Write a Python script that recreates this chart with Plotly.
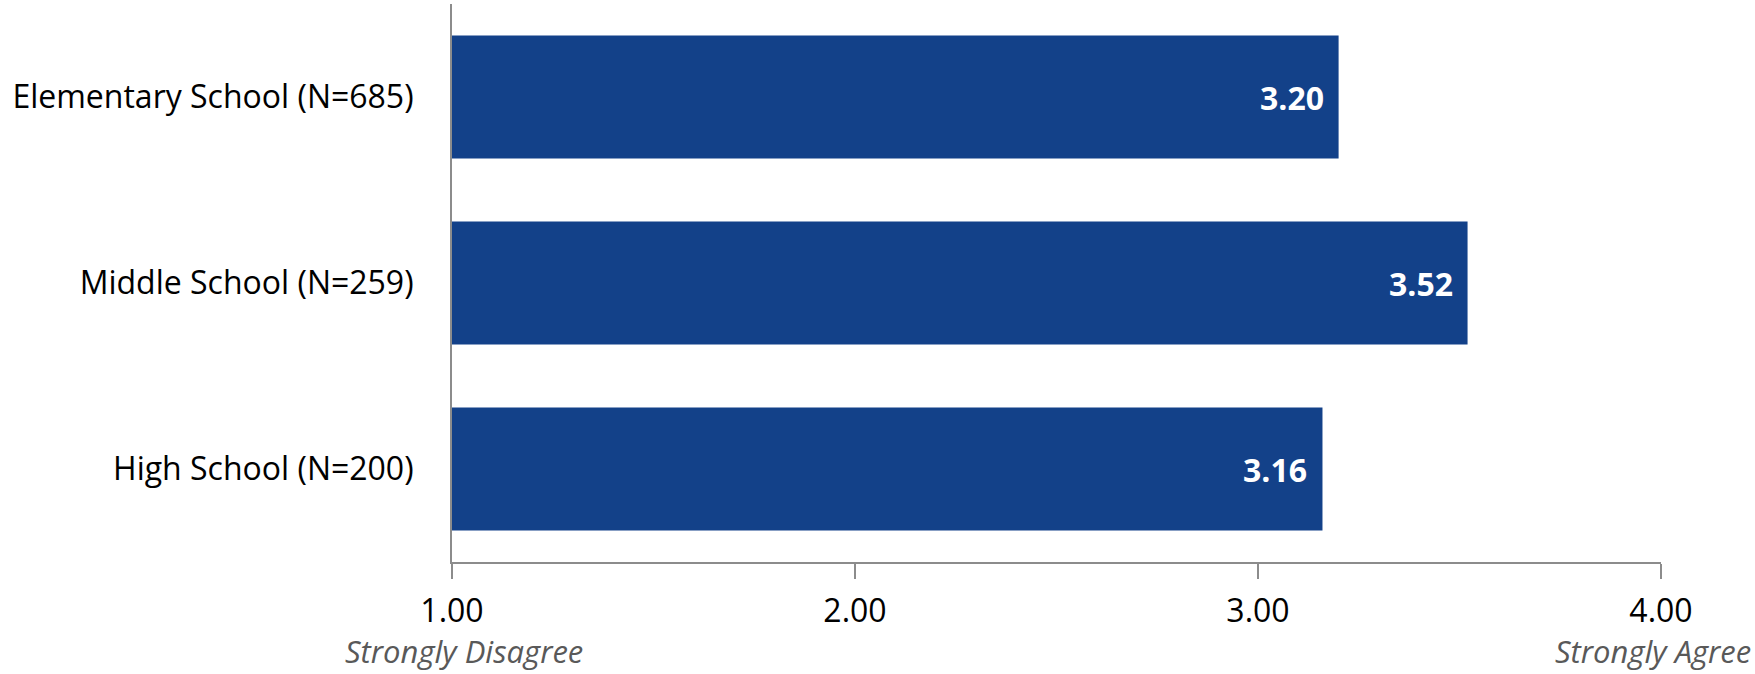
import plotly.graph_objects as go

categories = ["Elementary School (N=685)", "Middle School (N=259)", "High School (N=200)"]
values = [3.20, 3.52, 3.16]
tick_vals = [1, 2, 3, 4]
tick_text = ["1.00", "2.00", "3.00", "4.00"]
scale_low = "Strongly Disagree"
scale_high = "Strongly Agree"

BAR = "#134189"
AXIS = "#8c8c8c"
FONT = "Open Sans"

fig = go.Figure()
fig.add_trace(go.Bar(
    y=categories, x=[v - 1 for v in values], base=1, orientation="h",
    marker=dict(color=BAR, line=dict(width=0)), width=0.66,
    hoverinfo="skip", showlegend=False,
))

for c, v in zip(categories, values):
    fig.add_annotation(x=v, y=c, xref="x", yref="y", text=f"<b>{v:.2f}</b>",
                       showarrow=False, xanchor="right", xshift=-13,
                       font=dict(family=FONT, size=32, color="white"))

fig.add_annotation(x=1, y=0, xref="x", yref="paper", text=f"<i>{scale_low}</i>",
                   showarrow=False, xanchor="center", yanchor="top", xshift=12, yshift=-67,
                   borderpad=0, font=dict(family=FONT, size=31, color="#595959"))
fig.add_annotation(x=4, y=0, xref="x", yref="paper", text=f"<i>{scale_high}</i>",
                   showarrow=False, xanchor="right", yanchor="top", xshift=91, yshift=-67,
                   borderpad=0, font=dict(family=FONT, size=31, color="#595959"))

fig.update_layout(
    width=1755, height=674,
    margin=dict(l=452, r=94, t=4, b=112),
    paper_bgcolor="white", plot_bgcolor="white",
    bargap=0.34,
    font=dict(family=FONT, size=32, color="black"),
    xaxis=dict(range=[1, 4], tickvals=tick_vals, ticktext=tick_text,
               tickfont=dict(size=32),
               showgrid=False, zeroline=False, showline=True, linecolor=AXIS, linewidth=2,
               ticks="outside", ticklen=15, tickwidth=2, tickcolor=AXIS,
               ticklabelstandoff=5, fixedrange=True),
    yaxis=dict(categoryorder="array", categoryarray=categories, autorange="reversed",
               showgrid=False, zeroline=False, showline=True, linecolor=AXIS, linewidth=2,
               ticks="", ticklabelstandoff=30, fixedrange=True),
)

fig.write_html("out.html")
